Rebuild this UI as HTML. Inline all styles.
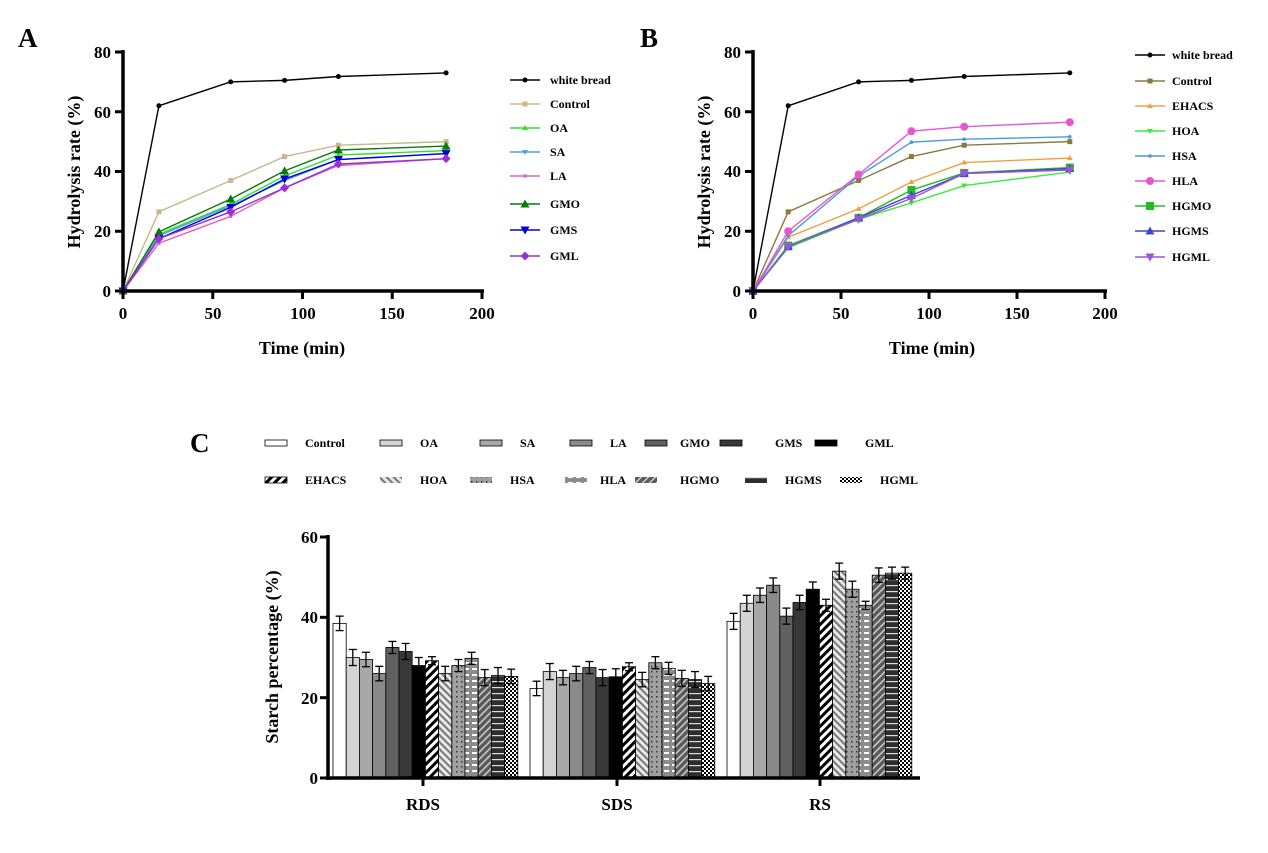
<!DOCTYPE html>
<html><head><meta charset="utf-8"><style>
html,body{margin:0;padding:0;background:#fff;}
svg{display:block;font-family:"Liberation Serif",serif;font-weight:bold;}
</style></head><body>
<svg id="s" width="1268" height="853" viewBox="0 0 1268 853" xmlns="http://www.w3.org/2000/svg">
<defs>
<pattern id="pEH" width="6" height="6" patternUnits="userSpaceOnUse" patternTransform="rotate(45)"><rect width="6" height="6" fill="#fff"/><rect width="3" height="6" fill="#000"/></pattern>
<pattern id="pHOA" width="5" height="5" patternUnits="userSpaceOnUse" patternTransform="rotate(-45)"><rect width="5" height="5" fill="#e8e8e8"/><rect width="2" height="5" fill="#777"/></pattern>
<pattern id="pHSA" width="5" height="5" patternUnits="userSpaceOnUse"><rect width="5" height="5" fill="#a0a0a0"/><rect x="1" y="1" width="1.5" height="1.5" fill="#333"/></pattern>
<pattern id="pHLA" width="8" height="6" patternUnits="userSpaceOnUse"><rect width="8" height="6" fill="#8c8c8c"/><rect x="0" y="2" width="5" height="2" fill="#fff"/></pattern>
<pattern id="pHGMO" width="5" height="5" patternUnits="userSpaceOnUse" patternTransform="rotate(45)"><rect width="5" height="5" fill="#5a5a5a"/><rect width="1.5" height="5" fill="#ccc"/></pattern>
<pattern id="pHGMS" width="6" height="6" patternUnits="userSpaceOnUse"><rect width="6" height="6" fill="#2e2e2e"/><rect y="3" width="6" height="1.2" fill="#ddd"/></pattern>
<pattern id="pHGML" width="4" height="4" patternUnits="userSpaceOnUse"><rect width="4" height="4" fill="#fff"/><rect width="2" height="2" fill="#000"/><rect x="2" y="2" width="2" height="2" fill="#000"/></pattern>
</defs>
<text x="18" y="47" font-size="27">A</text>
<text x="640" y="47" font-size="27">B</text>
<text x="190" y="452" font-size="27">C</text>
<g font-size="17" text-anchor="end">
<text x="111" y="297">0</text><text x="111" y="237">20</text><text x="111" y="177">40</text><text x="111" y="118">60</text><text x="111" y="58">80</text>
<text x="741" y="297">0</text><text x="741" y="237">20</text><text x="741" y="177">40</text><text x="741" y="118">60</text><text x="741" y="58">80</text>
<text x="318" y="784">0</text><text x="318" y="704">20</text><text x="318" y="623">40</text><text x="318" y="543">60</text>
</g>
<g font-size="17" text-anchor="middle">
<text x="123" y="319">0</text><text x="213" y="319">50</text><text x="303" y="319">100</text><text x="392" y="319">150</text><text x="482" y="319">200</text>
<text x="753" y="319">0</text><text x="841" y="319">50</text><text x="929" y="319">100</text><text x="1017" y="319">150</text><text x="1105" y="319">200</text>
<text x="302" y="354" font-size="18">Time (min)</text>
<text x="932" y="354" font-size="18">Time (min)</text>
<text x="423" y="810">RDS</text><text x="617" y="810">SDS</text><text x="820" y="810">RS</text>
</g>
<text transform="translate(80,172) rotate(-90)" font-size="18" text-anchor="middle">Hydrolysis rate (%)</text>
<text transform="translate(710,172) rotate(-90)" font-size="18" text-anchor="middle">Hydrolysis rate (%)</text>
<text transform="translate(278,657) rotate(-90)" font-size="18" text-anchor="middle">Starch percentage (%)</text>
<g font-size="12">
<text x="550" y="84">white bread</text><text x="550" y="108">Control</text><text x="550" y="132">OA</text><text x="550" y="156">SA</text><text x="550" y="180">LA</text><text x="550" y="208">GMO</text><text x="550" y="234">GMS</text><text x="550" y="260">GML</text>
<text x="1172" y="59">white bread</text><text x="1172" y="85">Control</text><text x="1172" y="110">EHACS</text><text x="1172" y="135">HOA</text><text x="1172" y="160">HSA</text><text x="1172" y="185">HLA</text><text x="1172" y="210">HGMO</text><text x="1172" y="235">HGMS</text><text x="1172" y="261">HGML</text>
</g>
<g font-size="12">
<text x="305" y="447">Control</text><text x="420" y="447">OA</text><text x="520" y="447">SA</text><text x="610" y="447">LA</text><text x="680" y="447">GMO</text><text x="775" y="447">GMS</text><text x="865" y="447">GML</text>
<text x="305" y="484">EHACS</text><text x="420" y="484">HOA</text><text x="510" y="484">HSA</text><text x="600" y="484">HLA</text><text x="680" y="484">HGMO</text><text x="785" y="484">HGMS</text><text x="880" y="484">HGML</text>
</g>
<g id="dyn"></g>
</svg>
<script>
var NS="http://www.w3.org/2000/svg",g=document.getElementById('dyn');
function el(t,a){var e=document.createElementNS(NS,t);for(var k in a)e.setAttribute(k,a[k]);g.appendChild(e);return e;}
function mk(type,x,y,c,sz){sz=sz||3;
 if(type=='c')el('circle',{cx:x,cy:y,r:sz,fill:c});
 else if(type=='s')el('rect',{x:x-sz,y:y-sz,width:2*sz,height:2*sz,fill:c});
 else if(type=='t')el('polygon',{points:(x)+','+(y-sz-1)+' '+(x-sz-1)+','+(y+sz)+' '+(x+sz+1)+','+(y+sz),fill:c});
 else if(type=='v')el('polygon',{points:(x)+','+(y+sz+1)+' '+(x-sz-1)+','+(y-sz)+' '+(x+sz+1)+','+(y-sz),fill:c});
 else if(type=='d')el('polygon',{points:x+','+(y-sz-1)+' '+(x+sz+1)+','+y+' '+x+','+(y+sz+1)+' '+(x-sz-1)+','+y,fill:c});
 else if(type=='p')el('circle',{cx:x,cy:y,r:1.8,fill:c});
}
var T=[0,20,60,90,120,180];
function panel(x0,x1,series,lx,ly){
 var y0=291,y1=52;
 function X(t){return x0+(x1-x0)*t/200;} function Y(v){return y0+(y1-y0)*v/80;}
 series.forEach(function(s,i){
  el('polyline',{points:s.d.map(function(v,j){return X(T[j])+','+Y(v)}).join(' '),fill:'none',stroke:s.c,'stroke-width':1.4});
  s.d.forEach(function(v,j){mk(s.m,X(T[j]),Y(v),s.c,s.z);});
  el('line',{x1:lx,x2:lx+30,y1:ly[i],y2:ly[i],stroke:s.c,'stroke-width':1.4});mk(s.m,lx+15,ly[i],s.c,s.z);
 });
 el('line',{x1:x0,x2:x0,y1:y1-2,y2:y0+2,stroke:'#000','stroke-width':3.5});
 el('line',{x1:x0-2,x2:x1+2,y1:y0,y2:y0,stroke:'#000','stroke-width':3.5});
 for(var v=0;v<=80;v+=20)el('line',{x1:x0-8,x2:x0,y1:Y(v),y2:Y(v),stroke:'#000','stroke-width':3});
 for(var t=0;t<=200;t+=50)el('line',{x1:X(t),x2:X(t),y1:y0,y2:y0+8,stroke:'#000','stroke-width':3});
}
var WB={d:[0,62,70,70.5,71.8,73],c:'#000',m:'c',z:2.5};
panel(123,482,[WB,
 {d:[0,26.5,37,45,48.8,50],c:'#c8b88a',m:'s',z:2.5},
 {d:[0,19,29,38.5,45.5,47],c:'#33dd33',m:'t',z:2},
 {d:[0,18.5,28.5,37,44,46],c:'#4aa3df',m:'v',z:2},
 {d:[0,16,25,34.5,42,44.3],c:'#e060c0',m:'p'},
 {d:[0,19.8,30.8,40.2,47.2,48.5],c:'#0a7a0a',m:'t',z:3.5},
 {d:[0,17.5,28,37.5,44,46],c:'#0000dd',m:'v',z:3.5},
 {d:[0,17.5,26.5,34.5,42.5,44.3],c:'#9b30d0',m:'d',z:3.5}
],510,[80,104,128,152,176,204,230,256]);
panel(753,1105,[WB,
 {d:[0,26.5,37,45,48.8,50],c:'#8b7a40',m:'s',z:2.5},
 {d:[0,18,27.5,36.5,43,44.5],c:'#f0a040',m:'t',z:2},
 {d:[0,14.5,24,29.5,35.3,39.8],c:'#33ee33',m:'v',z:2},
 {d:[0,18.5,38.5,49.8,50.8,51.6],c:'#4a9ad8',m:'p'},
 {d:[0,20,39,53.5,55,56.5],c:'#e855d0',m:'c',z:4},
 {d:[0,15.2,24.5,33.8,39.5,41.3],c:'#22bb22',m:'s',z:4},
 {d:[0,14.8,24.5,32,39.3,41],c:'#4444cc',m:'t',z:3.5},
 {d:[0,15,24,31,39.3,40.5],c:'#9955dd',m:'v',z:3.5}
],1135,[55,81,106,131,156,181,206,231,257]);
var F=['#fff','#d4d4d4','#a8a8a8','#8a8a8a','#606060','#383838','#000','url(#pEH)','url(#pHOA)','url(#pHSA)','url(#pHLA)','url(#pHGMO)','url(#pHGMS)','url(#pHGML)'];
var D=[[38.5,30,29.5,26,32.5,31.5,28,29.2,26,28,29.8,25,25.5,25.3],
[22.3,26.5,25,26,27.5,25,25.2,27.7,24.5,28.7,27.3,24.8,24.5,23.5],
[39,43.5,45.5,48,40.3,43.7,47,43,51.5,47,43,50.5,51,51]];
var E=[2,2,1.8,1.8,2,1.8,1.8,1.5,2,2,1,1.8,1.5,1.5];
var gx=[333,530,727],bw=13.2,cy0=778,cy1=537;
function CY(v){return cy0+(cy1-cy0)*v/60;}
D.forEach(function(r,gi){r.forEach(function(v,i){
 var x=gx[gi]+i*bw;
 el('rect',{x:x,y:CY(v),width:bw,height:cy0-CY(v),fill:F[i],stroke:'#000','stroke-width':0.8});
 var cx=x+bw/2,e=(gi==2?E[i]:E[(i+3)%14]);
 el('line',{x1:cx,x2:cx,y1:CY(v+e),y2:CY(v-e),stroke:'#000','stroke-width':1.3});
 el('line',{x1:cx-4,x2:cx+4,y1:CY(v+e),y2:CY(v+e),stroke:'#000','stroke-width':1.3});
 el('line',{x1:cx-4,x2:cx+4,y1:CY(v-e),y2:CY(v-e),stroke:'#000','stroke-width':1.3});
});});
el('line',{x1:328,x2:328,y1:535,y2:780,stroke:'#000','stroke-width':3.5});
el('line',{x1:326,x2:920,y1:778,y2:778,stroke:'#000','stroke-width':3.5});
[0,20,40,60].forEach(function(v){el('line',{x1:320,x2:328,y1:CY(v),y2:CY(v),stroke:'#000','stroke-width':3});});
[423,617,820].forEach(function(x){el('line',{x1:x,x2:x,y1:778,y2:786,stroke:'#000','stroke-width':3});});
var L1=[265,380,480,570,645,720,815],L2=[265,380,470,565,635,745,840];
for(var i=0;i<7;i++){
 el('rect',{x:L1[i],y:440,width:22,height:6,fill:F[i],stroke:'#000','stroke-width':0.8});
 el('rect',{x:L2[i],y:477,width:22,height:6,fill:F[i+7],stroke:F[i+7]=='url(#pEH)'?'#000':'none','stroke-width':0.8});
}
</script>
</body></html>
